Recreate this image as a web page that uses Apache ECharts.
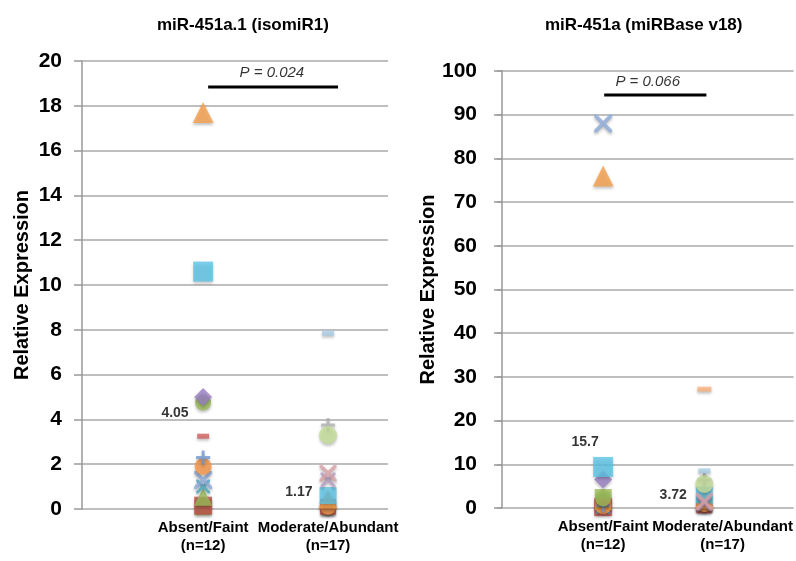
<!DOCTYPE html>
<html lang="en">
<head>
    <meta charset="UTF-8">
    <title>miR-451a expression</title>
    <script src="https://cdn.jsdelivr.net/npm/echarts@6/dist/echarts.min.js"></script>
    <style>
        html, body { margin: 0; padding: 0; background: #fff; }
        #main { width: 796px; height: 561px; }
    </style>
</head>
<body>
<div id="main"></div>
<script type="text/javascript">
	// categories (x position 1 and 2)
	var groups = ['Absent/Faint\n(n=12)', 'Moderate/Abundant\n(n=17)'];
	var chartTitles = ['miR-451a.1 (isomiR1)', 'miR-451a (miRBase v18)'];
	var yName = 'Relative Expression';

	// one value per patient, same order in both panels
	var isoAbsent = [17.7, 10.6, 5.0, 4.75, 3.25, 2.3, 1.9, 1.3, 1.0, 0.55, 0.15, 0.1];
	var isoModerate = [7.85, 3.3, 3.75, 1.6, 1.3, 0.6, 0.45, 0.2, 0.1, 0.1, 0.1, 0.1, 0.1, 0.1, 0.1, 0.1, 0.05];
	var baseAbsent = [76, 9.4, 6.5, 2.2, 1.2, 0.6, 0.5, 88, 0.3, 1.6, 0.2, 2.4];
	var baseModerate = [8.5, 5.5, 6.5, 1.5, 1.0, 3.0, 2.0, 27.2, 0.9, 0.8, 0.6, 1.2, 1.0, 0.5, 0.9, 1.4, 0.7];

	// group means and p values
	var isoMeans = [4.05, 1.17];
	var baseMeans = [15.7, 3.72];
	var pLabels = ['P = 0.024', 'P = 0.066'];
	// [x start, x end, y, text x, text y]
	var isoPBar = [1.04, 2.08, 18.84, 1.55, 19.45];
	var basePBar = [1.01, 2.02, 94.5, 1.44, 97.6];

	var chart = echarts.init(document.getElementById('main'));

	var xPath = 'path://M0,0 L3,0 L10,7 L17,0 L20,0 L20,3 L13,10 L20,17 L20,20 L17,20 L10,13 L3,20 L0,20 L0,17 L7,10 L0,3 Z';
	var plusPath = 'path://M8,0 H12 V8 H20 V12 H12 V20 H8 V12 H0 V8 H8 Z';

	// marker look for each patient (Excel style)
	var absentStyle = [
		{s: 'triangle', c: '#F8A04C', z: 21},
		{s: 'rect', c: '#5CC4E6', z: 20},
		{s: 'diamond', c: '#9A80C6', z: 18},
		{s: 'circle', c: '#9BBB59', z: 16},
		{s: 'rect', c: '#D0605C', z: [12, 5]},
		{s: plusPath, c: '#6F97D0', z: 14},
		{s: 'circle', c: '#F79646', z: 17},
		{s: xPath, c: '#8FAAD8', z: 18},
		{s: xPath, c: '#4BACC6', z: 14},
		{s: 'triangle', c: '#9BBB59', z: 18},
		{s: 'rect', c: '#C0504D', z: 18},
		{s: 'rect', c: '#9BBB59', z: 17}
	];
	var moderateStyle = [
		{s: 'rect', c: '#A9CCE3', z: [12, 5]},
		{s: 'circle', c: '#C6DE9B', z: 18},
		{s: plusPath, c: '#B0B0B0', z: 14},
		{s: xPath, c: '#D9A3A8', z: 17},
		{s: xPath, c: '#BBA0C8', z: 15},
		{s: 'rect', c: '#5CC4E6', z: 17},
		{s: 'triangle', c: '#F8A04C', z: 19},
		{s: 'rect', c: '#F9B27E', z: [14, 5]},
		{s: 'circle', c: '#F79646', z: 16},
		{s: 'diamond', c: '#4F81BD', z: 15},
		{s: 'rect', c: '#C0504D', z: 16},
		{s: 'triangle', c: '#9BBB59', z: 16},
		{s: xPath, c: '#8064A2', z: 14},
		{s: 'rect', c: '#4BACC6', z: 14},
		{s: plusPath, c: '#4F81BD', z: 12},
		{s: 'rect', c: '#C0504D', z: [12, 5]},
		{s: 'circle', c: '#C9A66B', z: 14}
	];

	var fontName = 'Liberation Sans';

	function pointSeries(idx, xPos, values, styles) {
		var out = [];
		for (var i = 0; i < values.length; i++) {
			out.push({
				type: 'scatter',
				xAxisIndex: idx,
				yAxisIndex: idx,
				symbol: styles[i].s,
				symbolSize: styles[i].z,
				z: 3 + (values.length - i) / 100,
				itemStyle: {
					color: styles[i].c,
					shadowBlur: 3,
					shadowOffsetY: 2,
					shadowColor: 'rgba(0,0,0,0.3)'
				},
				data: [[xPos, values[i]]]
			});
		}
		return out;
	}

	// mean value labels, gaps = [distance, offsetY] per group
	function meanSeries(idx, means, gaps) {
		return {
			type: 'scatter',
			xAxisIndex: idx,
			yAxisIndex: idx,
			symbolSize: 1,
			itemStyle: {color: 'rgba(0,0,0,0)'},
			z: 10,
			label: {
				show: true,
				position: 'left',
				fontWeight: 'bold',
				fontSize: 14,
				fontFamily: fontName,
				color: '#000',
				formatter: function (p) { return p.value[1]; }
			},
			data: [
				{value: [1, means[0]], label: {distance: gaps[0][0], offset: [0, gaps[0][1]]}},
				{value: [2, means[1]], label: {distance: gaps[1][0], offset: [0, gaps[1][1]]}}
			]
		};
	}

	function pSeries(idx, bar, text) {
		return [{
			type: 'line',
			xAxisIndex: idx,
			yAxisIndex: idx,
			symbol: 'none',
			lineStyle: {color: '#000', width: 3},
			data: [[bar[0], bar[2]], [bar[1], bar[2]]]
		}, {
			type: 'scatter',
			xAxisIndex: idx,
			yAxisIndex: idx,
			symbolSize: 1,
			itemStyle: {color: 'rgba(0,0,0,0)'},
			label: {
				show: true,
				position: 'inside',
				fontStyle: 'italic',
				fontSize: 15,
				fontFamily: fontName,
				color: '#000',
				formatter: text
			},
			data: [[bar[3], bar[4]]]
		}];
	}

	function xAxisFor(idx, min, max, labelAt) {
		return {
			type: 'value',
			gridIndex: idx,
			min: min,
			max: max,
			axisLine: {show: false},
			axisTick: {show: false},
			splitLine: {show: false},
			axisLabel: {
				customValues: labelAt,
				margin: 10,
				fontWeight: 'bold',
				fontSize: 15,
				lineHeight: 18,
				fontFamily: fontName,
				color: '#000',
				formatter: function (v) {
					return v < 1.5 ? groups[0] : groups[1];
				}
			}
		};
	}

	function yAxisFor(idx, max, step, gap) {
		return {
			type: 'value',
			gridIndex: idx,
			min: 0,
			max: max,
			interval: step,
			name: yName,
			nameLocation: 'middle',
			nameGap: gap,
			nameTextStyle: {fontWeight: 'bold', fontSize: 20, fontFamily: fontName, color: '#000', padding: [0, 0, 0, 0]},
			axisLine: {show: true, lineStyle: {color: '#999', width: 1.5}},
			axisTick: {show: true, length: 8, lineStyle: {color: '#999', width: 1.5}},
			splitLine: {show: true, lineStyle: {color: '#aaa', width: 1.5}},
			axisLabel: {
				margin: 20,
				fontWeight: 'bold',
				fontSize: 21,
				fontFamily: fontName,
				color: '#000'
			}
		};
	}

	var series = [];
	series = series.concat(pointSeries(0, 1, isoAbsent, absentStyle));
	series = series.concat(pointSeries(0, 2, isoModerate, moderateStyle));
	series = series.concat(pointSeries(1, 1, baseAbsent, absentStyle));
	series = series.concat(pointSeries(1, 2, baseModerate, moderateStyle));
	series.push(meanSeries(0, isoMeans, [[14, -5], [15, 9]]));
	series.push(meanSeries(1, baseMeans, [[4, 3], [17, 3]]));
	series = series.concat(pSeries(0, isoPBar, pLabels[0]));
	series = series.concat(pSeries(1, basePBar, pLabels[1]));

	var option = {
		backgroundColor: '#fff',
		animation: false,
		title: [
			{text: chartTitles[0], left: 152, top: 12, textStyle: {fontSize: 17, fontWeight: 'bold', fontFamily: fontName, color: '#000'}},
			{text: chartTitles[1], left: 540, top: 12, textStyle: {fontSize: 17, fontWeight: 'bold', fontFamily: fontName, color: '#000'}}
		],
		grid: [
			{left: 82, top: 61, width: 306, height: 448},
			{left: 497, top: 71, width: 299, height: 437}
		],
		xAxis: [xAxisFor(0, 0.03, 2.48, [1, 2]), xAxisFor(1, -0.049, 2.882, [1, 2.18])],
		yAxis: [yAxisFor(0, 20, 2, 50), yAxisFor(1, 100, 10, 57)],
		series: series
	};
	chart.setOption(option);
</script>
</body>
</html>
